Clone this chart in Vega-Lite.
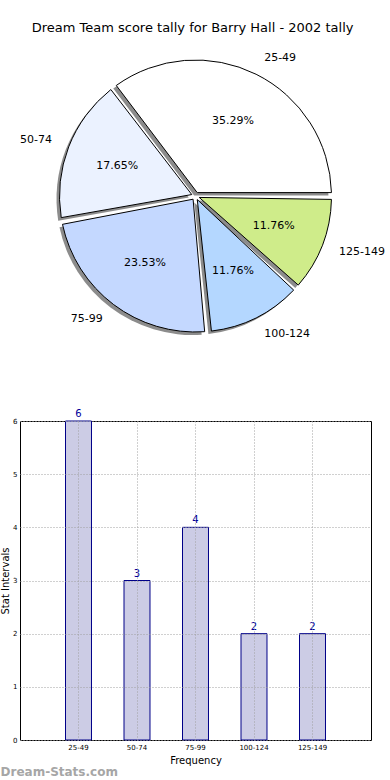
{
  "$schema": "https://vega.github.io/schema/vega-lite/v6.json",
  "padding": {"top": 22, "left": 0, "right": 0, "bottom": 0},
  "background": "white",
  "datasets": {
    "tally": [
      {"i": 1, "range": "25-49", "count": 6, "pct": "35.29%"},
      {"i": 2, "range": "50-74", "count": 3, "pct": "17.65%"},
      {"i": 3, "range": "75-99", "count": 4, "pct": "23.53%"},
      {"i": 4, "range": "100-124", "count": 2, "pct": "11.76%"},
      {"i": 5, "range": "125-149", "count": 2, "pct": "11.76%"}
    ]
  },
  "title": {
    "text": "Dream Team score tally for Barry Hall - 2002 tally",
    "font": "DejaVu Sans",
    "fontSize": 13,
    "fontWeight": "normal",
    "color": "black",
    "anchor": "middle",
    "offset": 12
  },
  "vconcat": [
    {
      "width": 351,
      "height": 298,
      "view": {"stroke": null},
      "data": {"name": "tally"},
      "encoding": {
        "theta": {"field": "count", "type": "quantitative", "stack": true, "scale": {"range": [1.5708, -4.7124]}},
        "order": {"field": "i", "type": "quantitative"}
      },
      "layer": [
        {
          "mark": {"type": "arc", "outerRadius": 136, "innerRadius": 4, "padAngle": 0.05, "fill": "#8c8c8c", "xOffset": -3, "yOffset": 3}
        },
        {
          "mark": {"type": "arc", "outerRadius": 136, "innerRadius": 4, "padAngle": 0.05, "stroke": "black", "strokeWidth": 1},
          "encoding": {
            "color": {
              "field": "range",
              "type": "nominal",
              "scale": {
                "domain": ["25-49", "50-74", "75-99", "100-124", "125-149"],
                "range": ["#ffffff", "#ebf2ff", "#c4d8ff", "#b4d7ff", "#cfec8a"]
              },
              "legend": null
            }
          }
        },
        {
          "mark": {"type": "text", "radius": 84, "fontSize": 11, "font": "DejaVu Sans", "color": "black"},
          "encoding": {"text": {"field": "pct", "type": "nominal"}}
        },
        {
          "mark": {"type": "text", "radius": 154, "align": "left", "fontSize": 11, "font": "DejaVu Sans", "color": "black"},
          "encoding": {
            "text": {
              "condition": {"test": "datum.i == 1 || datum.i == 4 || datum.i == 5", "field": "range", "type": "nominal"},
              "value": ""
            }
          }
        },
        {
          "mark": {"type": "text", "radius": 154, "align": "right", "fontSize": 11, "font": "DejaVu Sans", "color": "black"},
          "encoding": {
            "text": {
              "condition": {"test": "datum.i == 2 || datum.i == 3", "field": "range", "type": "nominal"},
              "value": ""
            }
          }
        }
      ]
    },
    {
      "width": 351,
      "height": 319,
      "data": {"name": "tally"},
      "title": {
        "text": "Dream-Stats.com",
        "orient": "bottom",
        "anchor": "start",
        "frame": "bounds",
        "font": "DejaVu Sans",
        "fontSize": 12,
        "fontWeight": "bold",
        "color": "#a6a6a6",
        "offset": 2
      },
      "encoding": {
        "x": {
          "field": "range",
          "type": "nominal",
          "sort": null,
          "scale": {"paddingInner": 0.556, "paddingOuter": 0.778},
          "axis": {
            "title": "Frequency",
            "labelAngle": 0,
            "labelFontSize": 7,
            "labelPadding": 3,
            "labelColor": "black",
            "ticks": false,
            "domain": false,
            "grid": true,
            "bandPosition": 0.5,
            "gridDash": [1, 2],
            "gridColor": "#a0a0a0",
            "titleFontSize": 10,
            "titleFontWeight": "normal",
            "titleColor": "black",
            "titlePadding": 5,
            "zindex": 1
          }
        },
        "y": {
          "field": "count",
          "type": "quantitative",
          "scale": {"domain": [0, 6], "nice": false},
          "axis": {
            "title": "Stat Intervals",
            "values": [0, 1, 2, 3, 4, 5, 6],
            "labelFontSize": 7,
            "labelPadding": 3,
            "labelColor": "black",
            "ticks": false,
            "domain": false,
            "grid": true,
            "gridDash": [1, 2],
            "gridColor": "#a0a0a0",
            "titleFontSize": 10,
            "titleFontWeight": "normal",
            "titleColor": "black",
            "titlePadding": 2,
            "zindex": 1
          }
        }
      },
      "layer": [
        {"mark": {"type": "bar", "fill": "#ccccE5", "stroke": "#000088", "strokeWidth": 1}},
        {
          "mark": {"type": "text", "baseline": "bottom", "dy": -2, "fontSize": 10, "font": "DejaVu Sans", "color": "#000099"},
          "encoding": {"text": {"field": "count", "type": "quantitative"}}
        }
      ]
    }
  ],
  "spacing": 76,
  "bounds": "flush",
  "config": {
    "font": "DejaVu Sans",
    "view": {"stroke": "black", "strokeWidth": 1}
  }
}
